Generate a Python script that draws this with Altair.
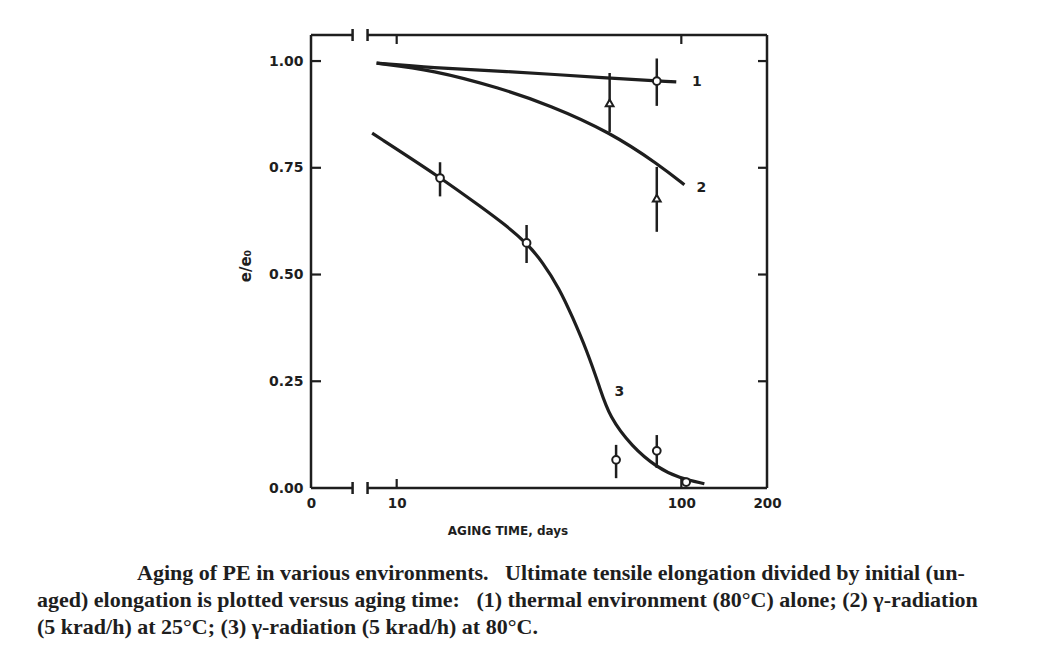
import altair as alt
import pandas as pd

# ---- values ----
c1_days = [8.5, 13.4, 23, 56, 96]
c1_val = [0.995, 0.984, 0.977, 0.960, 0.951]

c2_days = [8.5, 13.4, 23, 34.4, 56, 84, 102.5]
c2_val = [0.995, 0.979, 0.937, 0.897, 0.834, 0.756, 0.710]

c3_days = [8.2, 14.2, 20.0, 24.0, 28.6, 32.5, 37.3, 41.5, 46.5, 51.6, 55.9, 67.3, 81.7, 98.4, 120.5]
c3_val = [0.831, 0.728, 0.656, 0.617, 0.574, 0.530, 0.467, 0.400, 0.323, 0.237, 0.166, 0.096, 0.049, 0.023, 0.010]

pt_days = [82, 56, 82, 14.2, 28.6, 59, 82, 104]
pt_val = [0.953, 0.902, 0.679, 0.726, 0.574, 0.066, 0.087, 0.014]
pt_lo = [0.895, 0.834, 0.600, 0.683, 0.527, 0.023, 0.047, 0.014]
pt_hi = [1.006, 0.972, 0.752, 0.763, 0.616, 0.101, 0.124, 0.014]
pt_shape = ["circle", "triangle-up", "triangle-up", "circle", "circle", "circle", "circle", "circle"]

lab_text = ["1", "2", "3"]
lab_days = [109, 113, 58.2]
lab_val = [0.951, 0.703, 0.225]

x_tick_vals = [5, 10, 100, 200]
x_tick_text = ["0", "10", "100", "200"]
y_tick_vals = [0.0, 0.25, 0.5, 0.75, 1.0]
inner_x_ticks = [10, 100]
inner_y_ticks = [0.25, 0.5, 0.75, 1.0]
x_break = [7.0, 7.9]

GAP = "\u00a0\u00a0\u00a0"
caption = [
    "Aging of PE in various environments." + GAP + "Ultimate tensile elongation divided by initial (un-",
    "aged) elongation is plotted versus aging time:" + GAP + "(1) thermal environment (80°C) alone; (2) γ-radiation",
    "(5 krad/h) at 25°C; (3) γ-radiation (5 krad/h) at 80°C.",
]
x_title = "AGING TIME, days"
y_title = "e/e₀"

W, H = 456, 453
INK = "#1e1e1e"

curves = pd.concat([
    pd.DataFrame({"days": c1_days, "val": c1_val, "curve": "1"}),
    pd.DataFrame({"days": c2_days, "val": c2_val, "curve": "2"}),
    pd.DataFrame({"days": c3_days, "val": c3_val, "curve": "3"}),
])
pts = pd.DataFrame({"days": pt_days, "val": pt_val, "lo": pt_lo, "hi": pt_hi, "shape": pt_shape})
labs = pd.DataFrame({"days": lab_days, "val": lab_val, "t": lab_text})

xlabel_expr = "datum.value == 5 ? '0' : datum.value == 10 ? '10' : datum.value == 100 ? '100' : '200'"

xs = alt.Scale(type="log", domain=[5, 200], nice=False)
ys = alt.Scale(domain=[0, 1.061], nice=False, zero=False)

xaxis = alt.Axis(values=x_tick_vals, labelExpr=xlabel_expr, title=None, domain=False, ticks=False,
                 grid=False, labelFont="DejaVu Sans", labelFontWeight="bold", labelFontSize=13.5,
                 labelColor=INK, labelPadding=8, labelFlush=False, labelOverlap=False)
yaxis = alt.Axis(values=y_tick_vals, format=".2f", title=None, domain=False, ticks=False, grid=False,
                 labelFont="DejaVu Sans", labelFontWeight="bold", labelFontSize=14, labelColor=INK,
                 labelPadding=8)

base_axes = alt.Chart(curves).mark_line(opacity=0).encode(
    x=alt.X("days:Q", scale=xs, axis=xaxis),
    y=alt.Y("val:Q", scale=ys, axis=yaxis),
)

lines = alt.Chart(curves).mark_line(color=INK, strokeWidth=3.2, interpolate="basis").encode(
    x=alt.X("days:Q", scale=xs), y=alt.Y("val:Q", scale=ys), detail="curve:N"
)

err = alt.Chart(pts).mark_rule(color=INK, strokeWidth=2.5).encode(
    x=alt.X("days:Q", scale=xs), y=alt.Y("lo:Q", scale=ys), y2="hi:Q"
)

marks = alt.Chart(pts).mark_point(filled=True, fill="white", stroke=INK, strokeWidth=2, size=60, opacity=1).encode(
    x=alt.X("days:Q", scale=xs), y=alt.Y("val:Q", scale=ys),
    shape=alt.Shape("shape:N", scale=None, legend=None),
)

labels = alt.Chart(labs).mark_text(font="DejaVu Sans", fontWeight="bold", fontSize=14, color=INK,
                                   align="left", baseline="middle").encode(
    x=alt.X("days:Q", scale=xs), y=alt.Y("val:Q", scale=ys), text="t:N"
)

# frame
frame_df = pd.DataFrame({"a": [5], "b": [x_break[0]], "c": [x_break[1]], "d": [200]})
left_line = alt.Chart(frame_df).mark_rule(color=INK, strokeWidth=2.5).encode(
    x=alt.value(0), y=alt.value(0), y2=alt.value(H))
right_line = alt.Chart(frame_df).mark_rule(color=INK, strokeWidth=2.5).encode(
    x=alt.value(W), y=alt.value(0), y2=alt.value(H))
frame_segs = []
for yy in (0, H):
    frame_segs.append(alt.Chart(frame_df).mark_rule(color=INK, strokeWidth=2.5).encode(
        x=alt.X("a:Q", scale=xs), x2="b:Q", y=alt.value(yy)))
    frame_segs.append(alt.Chart(frame_df).mark_rule(color=INK, strokeWidth=2.5).encode(
        x=alt.X("c:Q", scale=xs), x2="d:Q", y=alt.value(yy)))

brk_df = pd.DataFrame({"days": x_break})
breaks = []
for yy in (0, H):
    breaks.append(alt.Chart(brk_df).mark_rule(color=INK, strokeWidth=2.5).encode(
        x=alt.X("days:Q", scale=xs), y=alt.value(yy - 6), y2=alt.value(yy + 6)))

xt_df = pd.DataFrame({"days": inner_x_ticks})
yt_df = pd.DataFrame({"val": inner_y_ticks})
ticks = [
    alt.Chart(xt_df).mark_rule(color=INK, strokeWidth=2.2).encode(
        x=alt.X("days:Q", scale=xs), y=alt.value(H), y2=alt.value(H - 9)),
    alt.Chart(xt_df).mark_rule(color=INK, strokeWidth=2.2).encode(
        x=alt.X("days:Q", scale=xs), y=alt.value(0), y2=alt.value(9)),
    alt.Chart(yt_df).mark_rule(color=INK, strokeWidth=2.2).encode(
        y=alt.Y("val:Q", scale=ys), x=alt.value(0), x2=alt.value(10)),
    alt.Chart(yt_df).mark_rule(color=INK, strokeWidth=2.2).encode(
        y=alt.Y("val:Q", scale=ys), x=alt.value(W), x2=alt.value(W - 9)),
]

one = pd.DataFrame({"k": [0]})
xtitle = alt.Chart(one).mark_text(font="DejaVu Sans", fontWeight="bold", fontSize=12, color=INK,
                                  align="center", baseline="middle").encode(
    x=alt.value(197), y=alt.value(496), text=alt.value(x_title))
ytitle = alt.Chart(one).mark_text(font="DejaVu Sans", fontWeight="bold", fontSize=15, color=INK,
                                  align="center", baseline="middle", angle=270).encode(
    x=alt.value(-65), y=alt.value(231), text=alt.value(y_title))

cap_layers = []
cap_pos = [(-174, 538), (-274, 565), (-274, 592)]
for line, (cx, cy) in zip(caption, cap_pos):
    cap_layers.append(alt.Chart(one).mark_text(font="Liberation Serif", fontWeight="bold", fontSize=22,
                                               color=INK, align="left", baseline="middle").encode(
        x=alt.value(cx), y=alt.value(cy), text=alt.value(line)))

chart = alt.layer(
    base_axes, lines, err, marks, labels, left_line, right_line, *frame_segs, *breaks, *ticks,
    xtitle, ytitle, *cap_layers
).properties(
    width=W, height=H,
    autosize=alt.AutoSizeParams(type="none"),
    padding={"left": 311, "top": 35, "right": 1039 - 311 - W, "bottom": 654 - 35 - H},
    background="white",
).configure_view(stroke=None)

chart.save("out.html", embed_options={"renderer": "svg", "actions": False})
